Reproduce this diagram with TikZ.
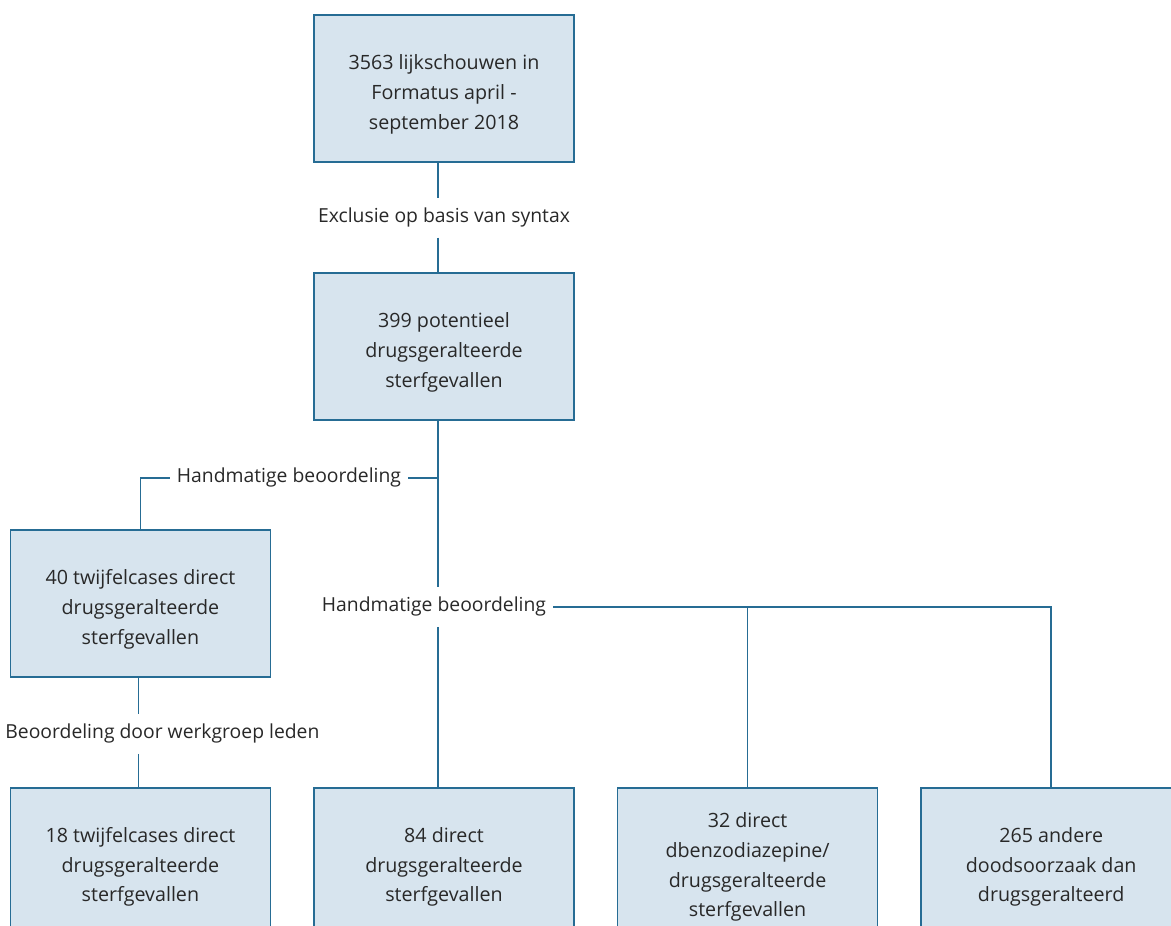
\documentclass[tikz,border=0pt]{standalone}
\usepackage{fontspec}
\setmainfont{Open Sans}
\usepackage{tikz}
\usetikzlibrary{positioning, calc}
\definecolor{boxfill}{RGB}{215,228,238}
\definecolor{boxline}{RGB}{38,108,148}
\definecolor{textgray}{RGB}{40,40,40}
\newcommand{\boxstrut}{\rule{0pt}{15pt}}

\begin{document}
\begin{tikzpicture}[
    node distance=2.18cm,
    % Light blue boxes
    flowbox/.style={
        rectangle,
        draw=boxline,
        fill=boxfill,
        line width=0.9pt,
        minimum width=5.2cm,
        minimum height=2.94cm,
        align=center,
        text=textgray,
        font={\fontsize{11.2}{17}\selectfont}
    },
    steplabel/.style={
        inner xsep=0.14cm,
        inner ysep=0.2cm,
        text=textgray,
        font={\fontsize{11}{17}\selectfont}
    },
    link/.style={draw=boxline, line width=0.9pt}
]
    \useasboundingbox (0,0) rectangle (23.42,-18.5);

    % Boxes
    \node[flowbox] (schouw) at (8.88,-1.77) {\boxstrut 3563 lijkschouwen in\\Formatus april -\\september 2018};
    \node[flowbox, below=2.19cm of schouw] (potent) {\boxstrut 399 potentieel\\drugsgeralteerde\\sterfgevallen};
    \node[flowbox, below left=2.17cm and 0.84cm of potent] (twijfel) {\boxstrut 40 twijfelcases direct\\drugsgeralteerde\\sterfgevallen};

    \node[flowbox, below=of twijfel] (twijfelb) {\boxstrut 18 twijfelcases direct\\drugsgeralteerde\\sterfgevallen};
    \node[flowbox, right=0.84cm of twijfelb] (direct) {\boxstrut 84 direct\\drugsgeralteerde\\sterfgevallen};
    \node[flowbox, right=0.84cm of direct] (benzo) {\boxstrut 32 direct\\dbenzodiazepine/\\drugsgeralteerde\\sterfgevallen};
    \node[flowbox, right=0.84cm of benzo] (andere) {\boxstrut 265 andere\\doodsoorzaak dan\\drugsgeralteerd};

    % Labels on the lines
    \node[steplabel] (excl) at ($(schouw.south)!0.5!(potent.north)$) {Exclusie op basis van syntax};
    \node[steplabel] (hand1) at ($(potent.south)+(-3.1,-1.14)$) {Handmatige beoordeling};
    \node[steplabel] (hand2) at ($(direct.north)+(-0.2,3.6)$) {Handmatige beoordeling};
    \node[steplabel] (werk) at ($(twijfel.south)!0.5!(twijfelb.north)+(0.44,-0.03)$) {Beoordeling door werkgroep leden};

    % Main spine sits a little left of the box centres
    \coordinate (spine) at ([xshift=-0.12cm]potent.south);

    % Lines
    \draw[link] ([xshift=-0.12cm]schouw.south) -- (excl.north -| spine);
    \draw[link] (excl.south -| spine) -- ([xshift=-0.12cm]potent.north);
    \draw[link] (spine) -- (spine |- hand2.north);
    \draw[link] (hand1.east) -- (hand1.east -| spine);
    \draw[link] (hand1.west) -| (twijfel.north);
    \draw[link] ([xshift=-0.04cm]twijfel.south) -- ([xshift=-0.04cm]twijfel.south |- werk.north);
    \draw[link] ([xshift=-0.04cm]twijfelb.north |- werk.south) -- ([xshift=-0.04cm]twijfelb.north);
    \draw[link] (hand2.south -| spine) -- (spine |- direct.north);
    \draw[link] (hand2.east) -| (andere.north);
    \draw[link] (hand2.east -| benzo.north) -- (benzo.north);

\end{tikzpicture}
\end{document}
